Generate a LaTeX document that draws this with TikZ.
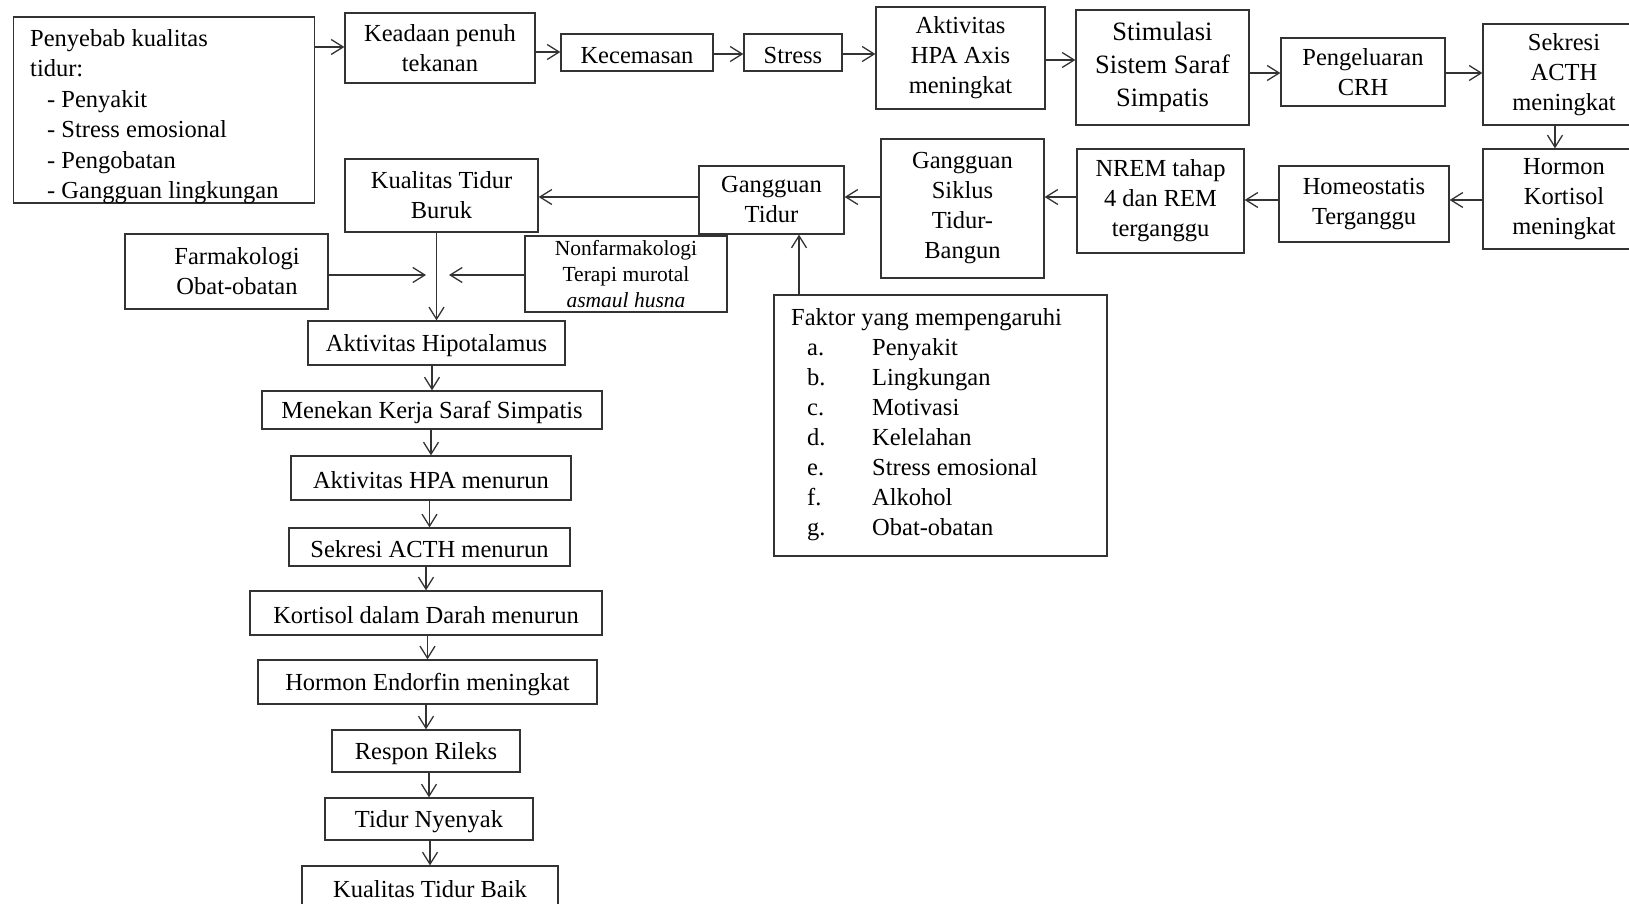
\documentclass[tikz,border=0pt]{standalone}
\usepackage{fontspec}
\setmainfont{Liberation Serif}
\usetikzlibrary{arrows.meta}
\newcommand\dn[2]{\raisebox{-#1pt}{#2}}
\begin{document}
\begin{tikzpicture}[x=1pt,y=-1pt,
  box/.style={draw=black!80, line width=1.3pt, rectangle, inner sep=0pt, align=center, font=\fontsize{24.5}{30}\selectfont},
  one/.style={box, execute at begin node={\rule{0pt}{22pt}}},
  bigbox/.style={box, font=\fontsize{26.5}{33}\selectfont},
  smallbox/.style={box, font=\fontsize{21.5}{26}\selectfont},
  listtext/.style={anchor=north west, inner sep=0pt, align=left},
  arr/.style={draw=black!80, line width=1.3pt, -{Straight Barb[length=12pt,width=15pt,line width=1.3pt]}},
]
\useasboundingbox (0,0) rectangle (1629,904);

% ---- left cause box ----
\node[draw=black!80, line width=1.3pt, inner sep=0pt, minimum width=301pt, minimum height=186pt] (pen) at (164,110) {};
\begin{scope}
\clip (pen.north west) rectangle (pen.south east);
\node[listtext, font=\fontsize{24.5}{30.5}\selectfont] (pentxt) at (30,29) {Penyebab kualitas\\tidur:\\\hspace*{17pt}- Penyakit\\\hspace*{17pt}- Stress emosional\\\hspace*{17pt}- Pengobatan\\\hspace*{17pt}- Gangguan lingkungan};
\end{scope}

% ---- top row ----
\node[box, minimum width=190pt, minimum height=70pt] (kead) at (440,48) {\dn{1}{Keadaan penuh}\\\dn{1}{tekanan}};
\node[one, minimum width=152pt, minimum height=37pt] (kec) at (637,52.5) {Kecemasan};
\node[one, minimum width=98pt, minimum height=37pt] (str) at (793,52.5) {Stress};
\node[box, minimum width=169pt, minimum height=102pt] (hpa) at (960.5,58) {\dn{3}{Aktivitas}\\\dn{3}{HPA Axis}\\\dn{3}{meningkat}};
\node[bigbox, minimum width=173pt, minimum height=115pt] (stim) at (1162.5,67.5) {\dn{1}{Stimulasi}\\\dn{1}{Sistem Saraf}\\\dn{1}{Simpatis}};
\node[box, minimum width=164pt, minimum height=68pt] (crh) at (1363,72) {\dn{2}{Pengeluaran}\\\dn{2}{CRH}};
\node[box, minimum width=162pt, minimum height=101pt] (acth) at (1564,74.5) {\dn{4}{Sekresi}\\\dn{4}{ACTH}\\\dn{4}{meningkat}};

% ---- second row ----
\node[box, minimum width=162pt, minimum height=100pt] (kort) at (1564,199) {\dn{4}{Hormon}\\\dn{4}{Kortisol}\\\dn{4}{meningkat}};
\node[box, minimum width=170pt, minimum height=76pt] (homeo) at (1364,204) {\dn{2}{Homeostatis}\\\dn{2}{Terganggu}};
\node[box, minimum width=167pt, minimum height=104pt] (nrem) at (1160.5,201) {\dn{2}{NREM tahap}\\\dn{2}{4 dan REM}\\\dn{2}{terganggu}};
\node[box, minimum width=163pt, minimum height=139pt] (siklus) at (962.5,208.5) {\dn{1}{Gangguan}\\\dn{1}{Siklus}\\\dn{1}{Tidur-}\\\dn{1}{Bangun}};
\node[box, minimum width=145pt, minimum height=68pt] (gtidur) at (771.5,200) {\dn{4}{Gangguan}\\\dn{4}{Tidur}};
\node[box, minimum width=193pt, minimum height=73pt] (buruk) at (441.5,195.5) {\dn{1}{Kualitas Tidur}\\\dn{1}{Buruk}};

% ---- therapy ----
\node[box, minimum width=203pt, minimum height=75pt] (farm) at (226.5,271.5) {\hspace*{21pt}Farmakologi\\\hspace*{21pt}Obat-obatan};
\node[smallbox, minimum width=202pt, minimum height=76pt] (nonf) at (626,274) {Nonfarmakologi\\Terapi murotal\\\textit{asmaul husna}};

% ---- factors ----
\node[draw=black!80, line width=1.3pt, inner sep=0pt, minimum width=333pt, minimum height=261pt] (faktor) at (940.5,425.5) {};
\node[listtext, font=\fontsize{24.5}{30}\selectfont] (faktxt) at (791,308) {Faktor yang mempengaruhi\\
\hspace*{16pt}\makebox[65pt][l]{a.}Penyakit\\
\hspace*{16pt}\makebox[65pt][l]{b.}Lingkungan\\
\hspace*{16pt}\makebox[65pt][l]{c.}Motivasi\\
\hspace*{16pt}\makebox[65pt][l]{d.}Kelelahan\\
\hspace*{16pt}\makebox[65pt][l]{e.}Stress emosional\\
\hspace*{16pt}\makebox[65pt][l]{f.}Alkohol\\
\hspace*{16pt}\makebox[65pt][l]{g.}Obat-obatan};

% ---- vertical chain ----
\node[one, minimum width=257pt, minimum height=44pt] (hipo) at (436.5,343) {Aktivitas Hipotalamus};
\node[one, minimum width=340pt, minimum height=38pt] (menekan) at (432,410) {Menekan Kerja Saraf Simpatis};
\node[one, minimum width=280pt, minimum height=44pt] (hpamen) at (431,478) {Aktivitas HPA menurun};
\node[one, minimum width=281pt, minimum height=38pt] (acthmen) at (429.5,547) {Sekresi ACTH menurun};
\node[one, minimum width=352pt, minimum height=44pt] (kortmen) at (426,613) {Kortisol dalam Darah menurun};
\node[one, minimum width=339pt, minimum height=44pt] (endo) at (427.5,682) {Hormon Endorfin meningkat};
\node[one, minimum width=188pt, minimum height=42pt] (rileks) at (426,751) {Respon Rileks};
\node[one, minimum width=208pt, minimum height=42pt] (nyenyak) at (429,819) {Tidur Nyenyak};
\node[one, minimum width=256pt, minimum height=42pt] (baik) at (430,887) {Kualitas Tidur Baik};

% ---- helper coordinates ----
\coordinate (fm) at (426,275);
\coordinate (nm) at (449,275);
\coordinate (ak) at (1555,0);
\coordinate (fk) at (799,0);

% ---- arrows top row ----
\draw[arr] (pen.east |- 0,47) -- (kead.west |- 0,47);
\draw[arr] (kead.east |- 0,52) -- (kec.west |- 0,52);
\draw[arr] (kec.east |- 0,54) -- (str.west |- 0,54);
\draw[arr] (str.east |- 0,54) -- (hpa.west |- 0,54);
\draw[arr] (hpa.east |- 0,60) -- (stim.west |- 0,60);
\draw[arr] (stim.east |- 0,73) -- (crh.west |- 0,73);
\draw[arr] (crh.east |- 0,73) -- (acth.west |- 0,73);
\draw[arr] (acth.south -| ak) -- (kort.north -| ak);

% ---- arrows second row ----
\draw[arr] (kort.west |- 0,200) -- (homeo.east |- 0,200);
\draw[arr] (homeo.west |- 0,200) -- (nrem.east |- 0,200);
\draw[arr] (nrem.west |- 0,197) -- (siklus.east |- 0,197);
\draw[arr] (siklus.west |- 0,197) -- (gtidur.east |- 0,197);
\draw[arr] (gtidur.west |- 0,197) -- (buruk.east |- 0,197);
\draw[arr] (faktor.north -| fk) -- (gtidur.south -| fk);

% ---- therapy arrows ----
\draw[arr] (buruk.south -| hipo.north) -- (hipo.north);
\draw[arr] (farm.east |- fm) -- (fm);
\draw[arr] (nonf.west |- nm) -- (nm);

% ---- chain arrows ----
\draw[arr] (hipo.south -| menekan.north) -- (menekan.north);
\draw[arr] (menekan.south -| hpamen.north) -- (hpamen.north);
\draw[arr] (hpamen.south -| acthmen.north) -- (acthmen.north);
\draw[arr] (acthmen.south -| kortmen.north) -- (kortmen.north);
\draw[arr] (kortmen.south -| endo.north) -- (endo.north);
\draw[arr] (endo.south -| rileks.north) -- (rileks.north);
\draw[arr] (rileks.south -| nyenyak.north) -- (nyenyak.north);
\draw[arr] (nyenyak.south -| baik.north) -- (baik.north);
\end{tikzpicture}
\end{document}
